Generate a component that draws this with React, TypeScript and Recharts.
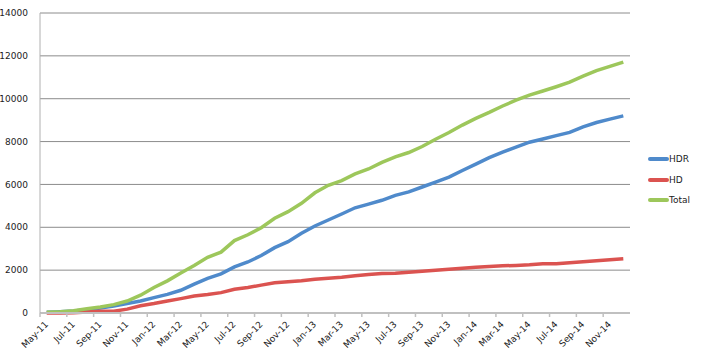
import React from 'react';
import { LineChart, Line, XAxis, YAxis, CartesianGrid } from 'recharts';

const months = [
  'May-11', 'Jun-11', 'Jul-11', 'Aug-11', 'Sep-11', 'Oct-11', 'Nov-11', 'Dec-11',
  'Jan-12', 'Feb-12', 'Mar-12', 'Apr-12', 'May-12', 'Jun-12', 'Jul-12', 'Aug-12',
  'Sep-12', 'Oct-12', 'Nov-12', 'Dec-12', 'Jan-13', 'Feb-13', 'Mar-13', 'Apr-13',
  'May-13', 'Jun-13', 'Jul-13', 'Aug-13', 'Sep-13', 'Oct-13', 'Nov-13', 'Dec-13',
  'Jan-14', 'Feb-14', 'Mar-14', 'Apr-14', 'May-14', 'Jun-14', 'Jul-14', 'Aug-14',
  'Sep-14', 'Oct-14', 'Nov-14', 'Dec-14',
];

const hdr = [
  30, 60, 90, 150, 230, 330, 440, 560,
  720, 870, 1060, 1350, 1620, 1830, 2150, 2380,
  2680, 3050, 3330, 3720, 4060, 4340, 4620, 4910,
  5080, 5260, 5490, 5650, 5880, 6110, 6340, 6650,
  6950, 7250, 7510, 7740, 7970, 8120, 8280, 8430,
  8690, 8890, 9050, 9200,
];

const hd = [
  0, 0, 10, 50, 80, 80, 180, 340,
  440, 560, 670, 790, 860, 950, 1110, 1190,
  1300, 1410, 1460, 1500, 1580, 1620, 1670, 1735,
  1800, 1845, 1860, 1905, 1950, 2000, 2045, 2090,
  2140, 2170, 2200, 2220, 2250, 2295, 2295, 2340,
  2390, 2435, 2480, 2530,
];

const total = [
  30, 60, 110, 200, 280, 390, 560, 830,
  1190, 1500, 1870, 2220, 2600, 2840, 3380, 3650,
  3980, 4420, 4730, 5120, 5610, 5960, 6180, 6490,
  6720, 7030, 7290, 7490, 7770, 8110, 8420, 8770,
  9080, 9360, 9660, 9930, 10170, 10360, 10560, 10770,
  11050, 11310, 11510, 11710,
];

const yTicks = [0, 2000, 4000, 6000, 8000, 10000, 12000, 14000];

const series = [
  { key: 'HDR', color: '#4F8ACB' },
  { key: 'HD', color: '#DB5350' },
  { key: 'Total', color: '#9DC75B' },
];

const data = months.map((m, i) => ({ name: m, HDR: hdr[i], HD: hd[i], Total: total[i] }));

const FONT = '"DejaVu Sans", Verdana, sans-serif';
const HALF_BAND = 6.7; // half a category width, points sit mid-category like Excel

function MonthTick(props: any) {
  const { x, y, payload } = props;
  return (
    <g>
      <line x1={x - HALF_BAND} y1={y - 8} x2={x - HALF_BAND} y2={y - 4} stroke="#c0c0c0" strokeWidth={1.5} />
      <text
        x={x + 2} y={y + 4}
        transform={`rotate(-45, ${x + 2}, ${y + 4})`}
        textAnchor="end" fontSize={9} fontFamily={FONT} fill="#222"
      >
        {payload.value}
      </text>
    </g>
  );
}

export default function App() {
  return (
    <div style={{ position: 'absolute', left: 0, top: 0, width: 701, height: 353, background: '#fff' }}>
      <LineChart width={701} height={353} data={data} margin={{ top: 13, right: 71, left: 0, bottom: 0 }}>
        <CartesianGrid vertical={false} stroke="#8c8c8c" strokeWidth={1} />
        <XAxis
          dataKey="name" interval={1} height={40}
          padding={{ left: HALF_BAND, right: HALF_BAND }}
          axisLine={{ stroke: '#c0c0c0', strokeWidth: 2 }}
          tickLine={false}
          tick={<MonthTick />}
        />
        <YAxis
          width={40} domain={[0, 14000]} ticks={yTicks} interval={0}
          axisLine={{ stroke: '#b0b0b0', strokeWidth: 1 }}
          tickLine={false}
          tick={{ fontSize: 9, fontFamily: FONT, fill: '#222' }}
          tickMargin={6}
        />
        {series.map(s => (
          <Line
            key={s.key} dataKey={s.key} type="linear"
            stroke={s.color} strokeWidth={3.5} dot={false}
            isAnimationActive={false}
          />
        ))}
      </LineChart>
      <div style={{ position: 'absolute', left: 648, top: 149, fontFamily: FONT, fontSize: 9, color: '#222' }}>
        {series.map(s => (
          <div key={s.key} style={{ display: 'flex', alignItems: 'center', height: 20.5 }}>
            <div style={{ width: 21, height: 4, borderRadius: 2, background: s.color }} />
            <span>{s.key}</span>
          </div>
        ))}
      </div>
    </div>
  );
}
